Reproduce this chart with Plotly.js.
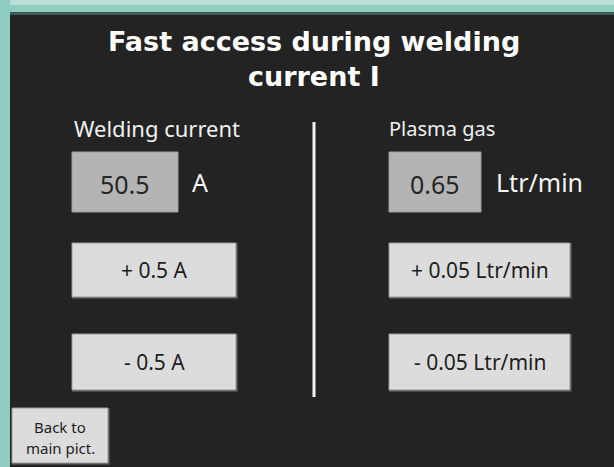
<!DOCTYPE html>
<html>
<head>
<meta charset="utf-8">
<script src="https://cdn.plot.ly/plotly-3.0.1.min.js"></script>
<style>
html,body{margin:0;padding:0;background:#8ecdbf;}
#chart{width:614px;height:467px;}
</style>
</head>
<body>
<div id="chart"></div>
<script>
// ---- content ----
const titleLines = ["Fast access during welding", "current I"];
const groupNames = ["Welding current", "Plasma gas"];
const groupValues = ["50.5", "0.65"];
const groupUnits = ["A", "Ltr/min"];
const plusLabels = ["+ 0.5 A", "+ 0.05 Ltr/min"];
const minusLabels = ["- 0.5 A", "- 0.05 Ltr/min"];
const backLabel = ["Back to", "main pict."];

// ---- layout geometry (pixels, y downwards) ----
const W = 614, H = 467;
const cols = [
  {label: 157, box: [72, 178], unitX: 200, btn: [72, 236]},
  {label: 442, box: [389, 481], unitX: 539, btn: [389, 570]}
];
const boxY = [152, 212];
const plusY = [243, 297];
const minusY = [334, 390];

const shapes = [];
const ann = [];

// background frame
shapes.push({type:'rect', xref:'x', yref:'y', x0:0, x1:W, y0:0, y1:H, fillcolor:'#8ecdbf', line:{width:0}, layer:'below'});
shapes.push({type:'rect', xref:'x', yref:'y', x0:10, x1:W, y0:0, y1:5, fillcolor:'#b9e0d7', line:{width:0}, layer:'below'});
shapes.push({type:'rect', xref:'x', yref:'y', x0:10, x1:W, y0:12, y1:16, fillcolor:'#3d5a55', line:{width:0}, layer:'below'});
shapes.push({type:'rect', xref:'x', yref:'y', x0:10, x1:W, y0:15, y1:H, fillcolor:'#232323', line:{width:0}, layer:'below'});

function button(x0, x1, y0, y1, fill) {
  shapes.push({type:'rect', xref:'x', yref:'y', x0:x0, x1:x1+2, y0:y0, y1:y1+2, fillcolor:'#484848', line:{width:0}});
  shapes.push({type:'rect', xref:'x', yref:'y', x0:x0, x1:x1, y0:y0, y1:y1, fillcolor:fill, line:{color:'#9a9a9a', width:1}});
}

// title
titleLines.forEach((t, i) => {
  ann.push({x: 314, y: 41 + i*35, xref:'x', yref:'y', text: t, showarrow:false,
    font:{family:'DejaVu Sans', size:27, color:'#ffffff', weight:'bold'}, xanchor:'center', yanchor:'middle'});
});

// columns
const labelSizes = [22, 20];
cols.forEach((c, i) => {
  ann.push({x: c.label, y: 128, xref:'x', yref:'y', text: groupNames[i], showarrow:false,
    font:{family:'Noto Sans', size:labelSizes[i], color:'#f0f0f0'}, xanchor:'center', yanchor:'middle'});
  shapes.push({type:'rect', xref:'x', yref:'y', x0:c.box[0], x1:c.box[1], y0:boxY[0], y1:boxY[1], fillcolor:'#b4b4b4', line:{color:'#9e9e9e', width:1}});
  ann.push({x: (c.box[0]+c.box[1])/2, y: 184, xref:'x', yref:'y', text: groupValues[i], showarrow:false,
    font:{family:'Noto Sans', size:25, color:'#262626'}, xanchor:'center', yanchor:'middle'});
  ann.push({x: c.unitX, y: 182, xref:'x', yref:'y', text: groupUnits[i], showarrow:false,
    font:{family:'Noto Sans', size:25, color:'#f5f5f5'}, xanchor:'center', yanchor:'middle'});
  button(c.btn[0], c.btn[1], plusY[0], plusY[1], '#dcdcdc');
  ann.push({x: (c.btn[0]+c.btn[1])/2, y: (plusY[0]+plusY[1])/2, xref:'x', yref:'y', text: plusLabels[i], showarrow:false,
    font:{family:'Noto Sans', size:21, color:'#1e1e1e'}, xanchor:'center', yanchor:'middle'});
  button(c.btn[0], c.btn[1], minusY[0], minusY[1], '#dcdcdc');
  ann.push({x: (c.btn[0]+c.btn[1])/2, y: (minusY[0]+minusY[1])/2, xref:'x', yref:'y', text: minusLabels[i], showarrow:false,
    font:{family:'Noto Sans', size:21, color:'#1e1e1e'}, xanchor:'center', yanchor:'middle'});
});

// divider
shapes.push({type:'line', xref:'x', yref:'y', x0:314, x1:314, y0:122, y1:397, line:{color:'#f2f2f2', width:3}});

// back button
button(12, 108, 408, 463, '#dcdcdc');
backLabel.forEach((t, i) => {
  ann.push({x: 60, y: 427 + i*21, xref:'x', yref:'y', text: t, showarrow:false,
    font:{family:'Noto Sans', size:15, color:'#1e1e1e'}, xanchor:'center', yanchor:'middle'});
});

const layout = {
  width: W, height: H,
  margin: {l:0, r:0, t:0, b:0, pad:0},
  paper_bgcolor: '#232323', plot_bgcolor: '#232323',
  xaxis: {range:[0, W], visible:false, fixedrange:true},
  yaxis: {range:[H, 0], visible:false, fixedrange:true},
  showlegend: false,
  shapes: shapes,
  annotations: ann
};

Plotly.newPlot('chart', [{x:[], y:[], type:'scatter', mode:'markers', hoverinfo:'skip'}], layout, {displayModeBar:false, staticPlot:true});
</script>
</body>
</html>
